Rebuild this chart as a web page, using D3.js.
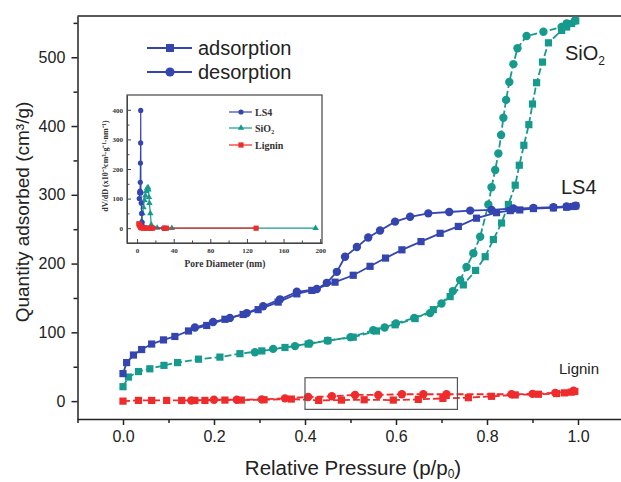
<!DOCTYPE html>
<html>
<head>
<meta charset="utf-8">
<script src="https://cdn.jsdelivr.net/npm/d3@7"></script>
<style>
  body { margin: 0; background: #fff; }
  svg { display: block; }
</style>
</head>
<body>
<script>
// ---- main isotherm data (relative pressure / quantity adsorbed) ----
var ls4AdsP  = [0, 0.008, 0.023, 0.041, 0.063, 0.089, 0.114, 0.144, 0.184, 0.224, 0.264, 0.297, 0.341, 0.382, 0.415, 0.466, 0.506, 0.543, 0.577, 0.613, 0.655, 0.697, 0.737, 0.777, 0.821, 0.851, 0.872, 0.902, 0.946, 0.975, 0.99, 0.995];
var ls4AdsV  = [40, 56, 67, 75, 83, 89, 94, 102, 110, 119, 126, 133, 144, 156, 161, 173, 183, 196, 208, 220, 232, 244, 254, 266, 274, 277, 278, 280, 281, 282, 283, 284];
var ls4DesP  = [0.995, 0.975, 0.946, 0.902, 0.858, 0.81, 0.763, 0.717, 0.671, 0.631, 0.598, 0.565, 0.539, 0.514, 0.488, 0.47, 0.448, 0.426, 0.382, 0.345, 0.308, 0.272, 0.235, 0.198, 0.158];
var ls4DesV  = [284, 283, 282, 281, 280, 278, 277, 275, 273, 268, 261, 248, 238, 224, 210, 188, 172, 163, 159, 148, 138, 128, 121, 115, 107];

var sio2AdsP = [0, 0.012, 0.034, 0.059, 0.09, 0.12, 0.166, 0.213, 0.257, 0.305, 0.356, 0.407, 0.45, 0.506, 0.557, 0.598, 0.642, 0.682, 0.719, 0.748, 0.775, 0.796, 0.814, 0.832, 0.847, 0.862, 0.871, 0.881, 0.892, 0.9, 0.909, 0.922, 0.935, 0.964, 0.975, 0.986, 0.995];
var sio2AdsV = [21, 35, 43, 47, 52, 56, 61, 64, 69, 73, 78, 83, 88, 93, 102, 111, 120, 133, 152, 169, 190, 210, 235, 259, 286, 314, 343, 372, 402, 432, 463, 493, 521, 539, 544, 549, 553];
var sio2DesP = [0.993, 0.975, 0.964, 0.924, 0.887, 0.867, 0.858, 0.849, 0.842, 0.836, 0.831, 0.825, 0.818, 0.81, 0.803, 0.785, 0.77, 0.755, 0.741, 0.725, 0.7, 0.675, 0.64, 0.6, 0.575, 0.55, 0.5, 0.45, 0.41, 0.378, 0.33, 0.29];
var sio2DesV = [553, 549, 544, 537, 531, 513, 490, 464, 438, 412, 387, 360, 336, 311, 286, 239, 215, 195, 176, 160, 142, 128, 121, 113, 107, 103, 93, 88, 84, 80, 76, 71];

var ligAdsP  = [0, 0.034, 0.063, 0.096, 0.129, 0.158, 0.18, 0.224, 0.26, 0.31, 0.37, 0.43, 0.48, 0.53, 0.594, 0.649, 0.703, 0.759, 0.81, 0.862, 0.913, 0.953, 0.97, 0.985, 0.993];
var ligAdsV  = [0, 1, 1, 1, 1, 1, 1, 1.5, 1.5, 2, 3, 1, 1.5, 2, 1.5, 2.5, 4, 5, 7, 9, 10, 11, 12, 13, 14];
var ligDesP  = [0.99, 0.95, 0.9, 0.854, 0.711, 0.66, 0.613, 0.561, 0.51, 0.459, 0.407, 0.356, 0.305, 0.25, 0.2, 0.15];
var ligDesV  = [15, 12, 10.5, 10, 10, 10, 10, 9, 9, 7, 6, 4, 2.5, 2, 2, 1];

var xTicks = [0, 0.2, 0.4, 0.6, 0.8, 1.0];
var yTicks = [0, 100, 200, 300, 400, 500];

// ---- inset pore size distribution (pore diameter nm / dV/dD) ----
var psdLs4D  = [2.4, 2.8, 3.2, 3.5, 3.7, 3.9, 4.0, 4.2, 4.5, 5, 5.5, 6.5, 8, 10, 14, 29];
var psdLs4V  = [100, 120, 125, 155, 220, 288, 398, 120, 85, 50, 20, 5, 2, 1, 0, 0];
var psdSio2D = [4.5, 5, 6, 7, 8, 9, 10, 11, 12, 12.5, 13, 13.5, 14.5, 15.5, 22, 38, 195];
var psdSio2V = [5, 25, 50, 70, 95, 110, 125, 135, 138, 130, 105, 85, 50, 12, 1, 0, 0];
var psdLigD  = [2, 2.5, 3, 4, 5, 7, 10, 15, 17, 30, 32, 130];
var psdLigV  = [15, 12, 8, 3, 1, 0, 0, 0, 0, 0, 0, 0];

var insetXTicks = [0, 40, 80, 120, 160, 200];
var insetYTicks = [0, 100, 200, 300, 400];

var BLUE = '#3545b0', TEAL = '#179a8e', RED = '#ef2b2b';

var svg = d3.select('body').append('svg')
            .attr('width', 621)
            .attr('height', 482);

var x = d3.scaleLinear().domain([-0.1, 1.1]).range([77.5, 623.5]);
var y = d3.scaleLinear().domain([-26, 560]).range([419, 16]);

function zip(a, b){ return a.map(function(d, i){ return [d, b[i]]; }); }

///////////////////////////////////////////////////////////////////////////////
///////////////////////////        main axes        ///////////////////////////
///////////////////////////////////////////////////////////////////////////////

var font = '"Liberation Sans", Arial, sans-serif';

var xAxis = svg.append('g').attr('transform', 'translate(0,419)')
  .call(d3.axisBottom(x).tickValues(xTicks).tickFormat(d3.format('.1f')).tickSize(6).tickSizeOuter(0));
svg.append('g').attr('transform', 'translate(0,419)')
  .call(d3.axisBottom(x).tickValues([-0.1, 0.1, 0.3, 0.5, 0.7, 0.9]).tickFormat('').tickSize(4).tickSizeOuter(0))
  .select('.domain').remove();

var yAxis = svg.append('g').attr('transform', 'translate(77.5,0)')
  .call(d3.axisLeft(y).tickValues(yTicks).tickSize(6).tickSizeOuter(0));
svg.append('g').attr('transform', 'translate(77.5,0)')
  .call(d3.axisLeft(y).tickValues([50, 150, 250, 350, 450, 550]).tickFormat('').tickSize(4).tickSizeOuter(0))
  .select('.domain').remove();

svg.selectAll('.tick line').attr('stroke', '#222').attr('stroke-width', 1.5);
svg.selectAll('.domain').attr('stroke', '#222').attr('stroke-width', 1.5);
xAxis.selectAll('text').attr('font-family', font).attr('font-size', 16).attr('fill', '#222').attr('dy', '0.9em');
yAxis.selectAll('text').attr('font-family', font).attr('font-size', 16).attr('fill', '#222').attr('dx', '-0.2em');

// frame top line
svg.append('line').attr('x1', 77.5).attr('x2', 623.5).attr('y1', 16).attr('y2', 16)
   .attr('stroke', '#222').attr('stroke-width', 1.5);

var xt = svg.append('text').attr('x', 353).attr('y', 475).attr('text-anchor', 'middle')
   .attr('font-family', font).attr('font-size', 20.5).attr('fill', '#222');
xt.append('tspan').text('Relative Pressure (p/p');
xt.append('tspan').attr('font-size', 12).attr('dy', 3).text('0');
xt.append('tspan').attr('dy', -3).text(')');

svg.append('text').attr('transform', 'translate(29,212) rotate(-90)').attr('text-anchor', 'middle')
   .attr('font-family', font).attr('font-size', 19).attr('fill', '#222')
   .text('Quantity adsorbed (cm\u00B3/g)');

///////////////////////////////////////////////////////////////////////////////
///////////////////////////        isotherms        ///////////////////////////
///////////////////////////////////////////////////////////////////////////////

var line = d3.line().x(function(d){ return x(d[0]); }).y(function(d){ return y(d[1]); });

function drawSeries(g, pts, color, dash, shape){
  g.append('path').attr('d', line(pts))
   .attr('fill', 'none').attr('stroke', color).attr('stroke-width', 1.8)
   .attr('stroke-dasharray', dash);
  if (shape === 'square'){
    g.selectAll(null).data(pts).enter().append('rect')
     .attr('x', function(d){ return x(d[0]) - 3.6; })
     .attr('y', function(d){ return y(d[1]) - 3.6; })
     .attr('width', 7.2).attr('height', 7.2).attr('fill', color);
  } else {
    g.selectAll(null).data(pts).enter().append('circle')
     .attr('cx', function(d){ return x(d[0]); })
     .attr('cy', function(d){ return y(d[1]); })
     .attr('r', 4.2).attr('fill', color);
  }
}

var plot = svg.append('g');
drawSeries(plot.append('g'), zip(sio2AdsP, sio2AdsV), TEAL, '7,3', 'square');
drawSeries(plot.append('g'), zip(sio2DesP, sio2DesV), TEAL, '7,3', 'circle');
drawSeries(plot.append('g'), zip(ls4AdsP, ls4AdsV), BLUE, null, 'square');
drawSeries(plot.append('g'), zip(ls4DesP, ls4DesV), BLUE, null, 'circle');
drawSeries(plot.append('g'), zip(ligAdsP, ligAdsV), RED, '7,3', 'square');
drawSeries(plot.append('g'), zip(ligDesP, ligDesV), RED, '7,3', 'circle');

// highlight box
svg.append('rect').attr('x', x(0.4)).attr('y', y(34))
   .attr('width', x(0.735) - x(0.4)).attr('height', y(-12) - y(34))
   .attr('fill', 'none').attr('stroke', '#555').attr('stroke-width', 1.2);

// series labels
var sl = svg.append('text').attr('x', 565).attr('y', 60).attr('font-family', font)
   .attr('font-size', 20).attr('fill', '#222');
sl.append('tspan').text('SiO');
sl.append('tspan').attr('font-size', 12).attr('dy', 5).text('2');
svg.append('text').attr('x', 561).attr('y', 194).attr('font-family', font)
   .attr('font-size', 20).attr('fill', '#222').text('LS4');
svg.append('text').attr('x', 559).attr('y', 374).attr('font-family', font)
   .attr('font-size', 15).attr('fill', '#222').text('Lignin');

// legend
var legend = [{label: 'adsorption', shape: 'square', y: 48}, {label: 'desorption', shape: 'circle', y: 72}];
legend.forEach(function(l){
  svg.append('line').attr('x1', 147).attr('x2', 192).attr('y1', l.y).attr('y2', l.y)
     .attr('stroke', BLUE).attr('stroke-width', 1.8);
  if (l.shape === 'square')
    svg.append('rect').attr('x', 166).attr('y', l.y - 4).attr('width', 8).attr('height', 8).attr('fill', BLUE);
  else
    svg.append('circle').attr('cx', 170).attr('cy', l.y).attr('r', 4.6).attr('fill', BLUE);
  svg.append('text').attr('x', 198).attr('y', l.y + 7).attr('font-family', font)
     .attr('font-size', 20).attr('fill', '#222').text(l.label);
});

///////////////////////////////////////////////////////////////////////////////
///////////////////////////          inset          ///////////////////////////
///////////////////////////////////////////////////////////////////////////////

var serif = '"Liberation Serif", "Times New Roman", serif';
var ix = d3.scaleLinear().domain([-11, 202]).range([127, 322]);
var iy = d3.scaleLinear().domain([-50, 450]).range([243, 95]);

var inset = svg.append('g');
inset.append('rect').attr('x', 127).attr('y', 95).attr('width', 195).attr('height', 148)
     .attr('fill', '#fff').attr('stroke', '#444').attr('stroke-width', 1.2);

var ixa = inset.append('g').attr('transform', 'translate(0,243)')
  .call(d3.axisBottom(ix).tickValues(insetXTicks).tickSize(-4).tickPadding(5).tickSizeOuter(0));
inset.append('g').attr('transform', 'translate(0,243)')
  .call(d3.axisBottom(ix).tickValues([20, 60, 100, 140, 180]).tickFormat('').tickSize(-2.5).tickSizeOuter(0))
  .select('.domain').remove();
var iya = inset.append('g').attr('transform', 'translate(127,0)')
  .call(d3.axisLeft(iy).tickValues(insetYTicks).tickSize(-4).tickPadding(4).tickSizeOuter(0));
inset.append('g').attr('transform', 'translate(127,0)')
  .call(d3.axisLeft(iy).tickValues([-50, 50, 150, 250, 350]).tickFormat('').tickSize(-2.5).tickSizeOuter(0))
  .select('.domain').remove();
inset.selectAll('.domain').attr('stroke', '#444');
inset.selectAll('.tick line').attr('stroke', '#444');
inset.selectAll('.tick text').attr('font-family', serif).attr('font-weight', 'bold')
     .attr('font-size', 7).attr('fill', '#333');

inset.append('text').attr('x', 225).attr('y', 267).attr('text-anchor', 'middle')
     .attr('font-family', serif).attr('font-weight', 'bold').attr('font-size', 9.5).attr('fill', '#333')
     .text('Pore Diameter (nm)');
inset.append('text').attr('transform', 'translate(108,166) rotate(-90)').attr('text-anchor', 'middle')
     .attr('font-family', serif).attr('font-weight', 'bold').attr('font-size', 8).attr('fill', '#333')
     .text('dV/dD (x10\u207B\u00B3cm\u00B3\u00B7g\u207B\u00B9\u00B7nm\u207B\u00B9)');

var iline = d3.line().x(function(d){ return ix(d[0]); }).y(function(d){ return iy(d[1]); });

function insetMarker(g, shape, cx, cy, color){
  if (shape === 'circle')
    g.append('circle').attr('cx', cx).attr('cy', cy).attr('r', 2.6).attr('fill', color);
  else if (shape === 'triangle')
    g.append('path').attr('d', d3.symbol().type(d3.symbolTriangle).size(18)())
     .attr('transform', 'translate(' + cx + ',' + cy + ')').attr('fill', color);
  else
    g.append('rect').attr('x', cx - 2.6).attr('y', cy - 2.6).attr('width', 5.2).attr('height', 5.2).attr('fill', color);
}

function drawPsd(pts, color, shape){
  var g = inset.append('g');
  g.append('path').attr('d', iline(pts)).attr('fill', 'none').attr('stroke', color).attr('stroke-width', 1.2);
  pts.forEach(function(d){ insetMarker(g, shape, ix(d[0]), iy(d[1]), color); });
}

drawPsd(zip(psdSio2D, psdSio2V), TEAL, 'triangle');
drawPsd(zip(psdLs4D, psdLs4V), BLUE, 'circle');
drawPsd(zip(psdLigD, psdLigV), RED, 'square');

var insetLegend = [{label: 'LS4', color: BLUE, shape: 'circle', y: 112},
                   {label: 'SiO', sub: '2', color: TEAL, shape: 'triangle', y: 128},
                   {label: 'Lignin', color: RED, shape: 'square', y: 145}];
insetLegend.forEach(function(l){
  inset.append('line').attr('x1', 229).attr('x2', 252).attr('y1', l.y).attr('y2', l.y)
       .attr('stroke', l.color).attr('stroke-width', 1.2);
  insetMarker(inset, l.shape, 241, l.y, l.color);
  var t = inset.append('text').attr('x', 255).attr('y', l.y + 3.5).attr('font-family', serif)
       .attr('font-weight', 'bold').attr('font-size', 10).attr('fill', '#333');
  t.append('tspan').text(l.label);
  if (l.sub) t.append('tspan').attr('font-size', 6).attr('dy', 2.5).text(l.sub);
});
</script>
</body>
</html>
